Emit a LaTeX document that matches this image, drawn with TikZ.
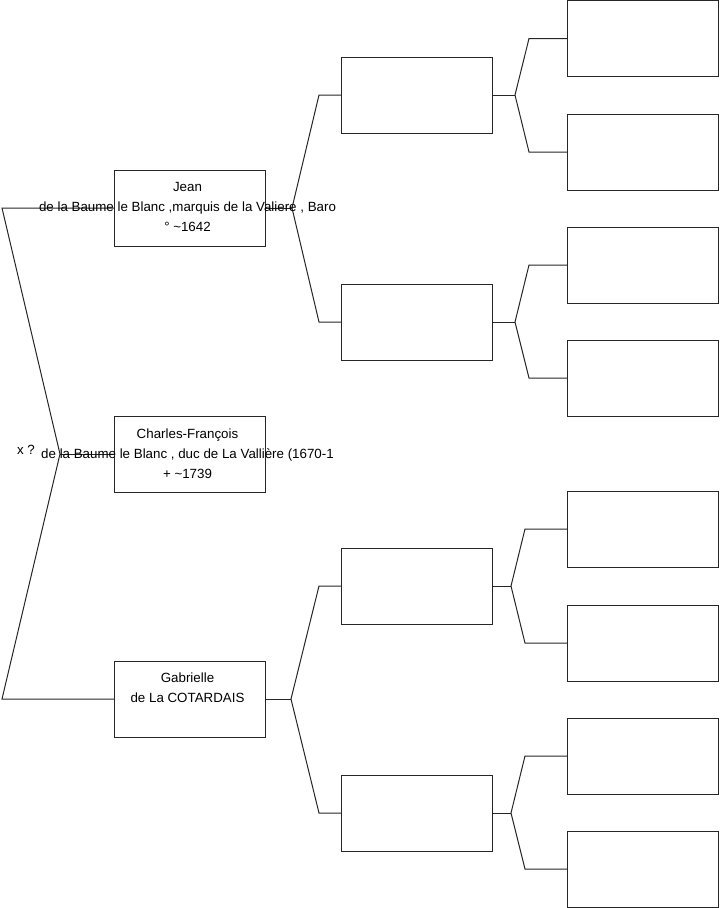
\documentclass[tikz,border=0pt]{standalone}
\usepackage{fontspec}
\setmainfont{Liberation Sans}
\begin{document}
\begin{tikzpicture}[x=0.75pt,y=-0.75pt,
  pbox/.style={draw=black!85,line width=0.75pt,minimum width=113.25pt,minimum height=57pt,inner sep=0pt,outer sep=0pt},
  ptext/.style={align=center,inner sep=0pt,font=\fontsize{10}{15}\selectfont},
  link/.style={draw=black!85,line width=0.75pt,line join=miter}]
\useasboundingbox (0,0) rectangle (719,908);
% generation 1
\node[pbox] (g1a) at (189.5,208) {};
\node[pbox] (g1b) at (189.5,454) {};
\node[pbox] (g1c) at (189.5,699) {};
% generation 2
\node[pbox] (g2a) at (416.5,95) {};
\node[pbox] (g2b) at (416.5,322) {};
\node[pbox] (g2c) at (416.5,586) {};
\node[pbox] (g2d) at (416.5,813) {};
% generation 3
\node[pbox] (g3a) at (643,38.5) {};
\node[pbox] (g3b) at (643,152) {};
\node[pbox] (g3c) at (643,265) {};
\node[pbox] (g3d) at (643,378) {};
\node[pbox] (g3e) at (643,529) {};
\node[pbox] (g3f) at (643,643) {};
\node[pbox] (g3g) at (643,756) {};
\node[pbox] (g3h) at (643,869) {};
% left bracket
\coordinate (l1) at (2,208);
\coordinate (l0) at (60,454);
\coordinate (l3) at (2,699);
\draw[link] (g1a.west) -- (l1) -- (l0) -- (l3) -- (g1c.west);
\draw[link] (l0) -- (g1b.west);
% gen1 -> gen2
\coordinate (ja) at (292,208);
\coordinate (ja1) at (319,95);
\coordinate (ja2) at (319,322);
\draw[link] (g1a.east) -- (ja);
\draw[link] (g2a.west) -- (ja1) -- (ja) -- (ja2) -- (g2b.west);
\coordinate (jc) at (291,699);
\coordinate (jc1) at (319,586);
\coordinate (jc2) at (319,813);
\draw[link] (g1c.east) -- (jc);
\draw[link] (g2c.west) -- (jc1) -- (jc) -- (jc2) -- (g2d.west);
% gen2 -> gen3
\coordinate (ka) at (515,95);
\coordinate (ka1) at (529,38.5);
\coordinate (ka2) at (529,152);
\draw[link] (g2a.east) -- (ka);
\draw[link] (g3a.west) -- (ka1) -- (ka) -- (ka2) -- (g3b.west);
\coordinate (kb) at (515,322);
\coordinate (kb1) at (529,265);
\coordinate (kb2) at (529,378);
\draw[link] (g2b.east) -- (kb);
\draw[link] (g3c.west) -- (kb1) -- (kb) -- (kb2) -- (g3d.west);
\coordinate (kc) at (511,586);
\coordinate (kc1) at (525,529);
\coordinate (kc2) at (525,643);
\draw[link] (g2c.east) -- (kc);
\draw[link] (g3e.west) -- (kc1) -- (kc) -- (kc2) -- (g3f.west);
\coordinate (kd) at (511,813);
\coordinate (kd1) at (525,756);
\coordinate (kd2) at (525,869);
\draw[link] (g2d.east) -- (kd);
\draw[link] (g3g.west) -- (kd1) -- (kd) -- (kd2) -- (g3h.west);
% texts
\node[ptext] (t1a) at (187.5,206.5) {Jean\\de la Baume le Blanc ,marquis de la Valiere , Baro\\° \textasciitilde1642};
\node[ptext] (t1b) at (187.5,453.5) {Charles-François\\de la Baume le Blanc , duc de La Vallière (1670-1\\+ \textasciitilde1739};
\node[ptext] (t1c) at (187.5,687.5) {Gabrielle\\de La COTARDAIS};
\node[ptext] (tx) at (26,450) {x ?};
\end{tikzpicture}
\end{document}
